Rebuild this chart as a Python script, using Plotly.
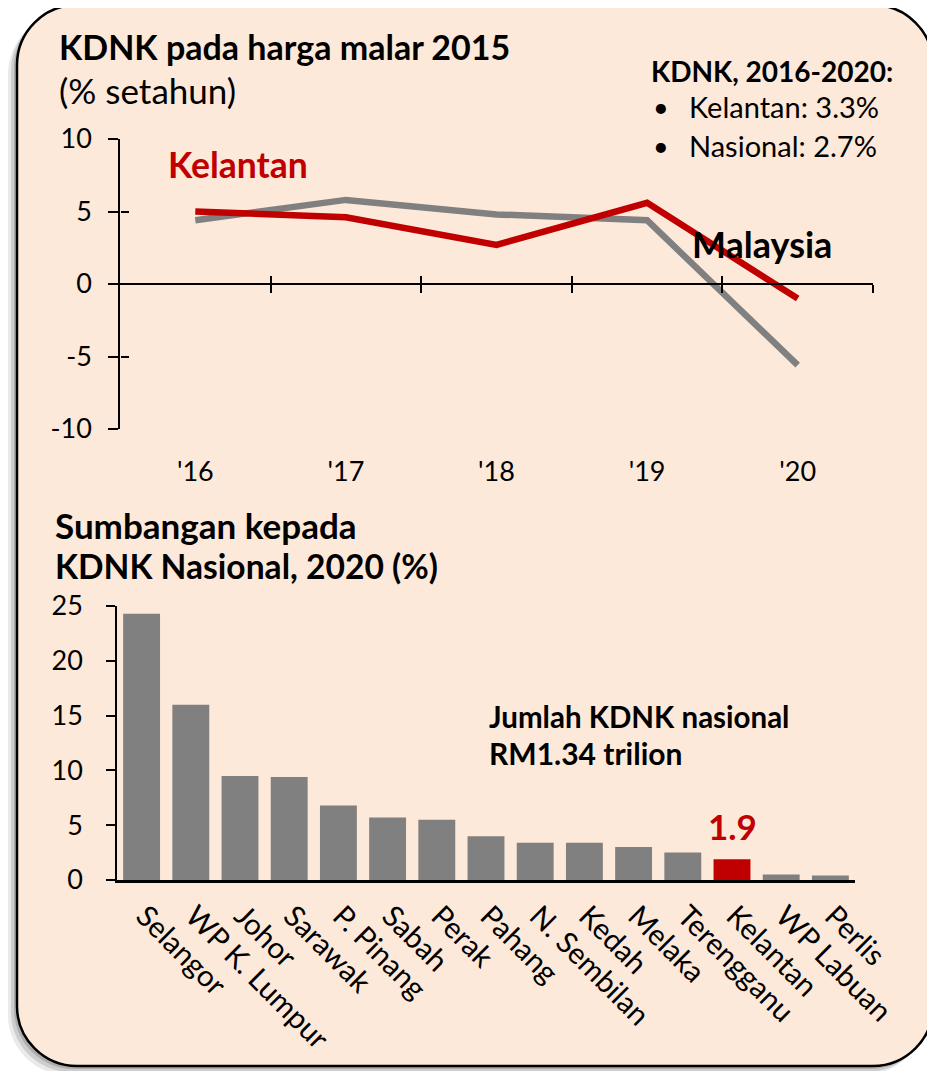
import plotly.graph_objects as go

W, H = 935, 1071
OFF = 8  # page body margin offset

# ---------------- data ----------------
years = ["'16", "'17", "'18", "'19", "'20"]
kelantan_growth = [5.0, 4.6, 2.7, 5.6, -1.0]
malaysia_growth = [4.4, 5.8, 4.8, 4.4, -5.6]
boundaries = [0.5, 1.5, 2.5, 3.5, 4.5]
y_ticks_top = [-10, -5, 0, 5, 10]

states = ["Selangor", "WP K. Lumpur", "Johor", "Sarawak", "P. Pinang", "Sabah", "Perak",
          "Pahang", "N. Sembilan", "Kedah", "Melaka", "Terengganu", "Kelantan",
          "WP Labuan", "Perlis"]
share_2020 = [24.3, 16.0, 9.5, 9.4, 6.8, 5.7, 5.5, 4.0, 3.4, 3.4, 3.0, 2.5, 1.9, 0.5, 0.4]
y_ticks_bottom = [0, 5, 10, 15, 20, 25]

GREY = "#808080"
RED = "#C00000"
BG = "#FDE9D9"
FONT = "Lato"


def px(x):
    return (x - OFF) / W


def py(y):
    return 1 - (y - OFF) / H


def rounded_rect(x0, y0, x1, y1, r):
    k = 0.5523 * r
    pts = []
    pts.append(f"M {px(x0 + r)},{py(y0)}")
    pts.append(f"L {px(x1 - r)},{py(y0)}")
    pts.append(f"C {px(x1 - r + k)},{py(y0)} {px(x1)},{py(y0 + r - k)} {px(x1)},{py(y0 + r)}")
    pts.append(f"L {px(x1)},{py(y1 - r)}")
    pts.append(f"C {px(x1)},{py(y1 - r + k)} {px(x1 - r + k)},{py(y1)} {px(x1 - r)},{py(y1)}")
    pts.append(f"L {px(x0 + r)},{py(y1)}")
    pts.append(f"C {px(x0 + r - k)},{py(y1)} {px(x0)},{py(y1 - r + k)} {px(x0)},{py(y1 - r)}")
    pts.append(f"L {px(x0)},{py(y0 + r)}")
    pts.append(f"C {px(x0)},{py(y0 + r - k)} {px(x0 + r - k)},{py(y0)} {px(x0 + r)},{py(y0)}")
    pts.append("Z")
    return " ".join(pts)


fig = go.Figure()

# top line chart
fig.add_trace(go.Scatter(x=years, y=malaysia_growth, mode="lines",
                         line=dict(color=GREY, width=6.5), xaxis="x", yaxis="y",
                         showlegend=False, hoverinfo="skip"))
fig.add_trace(go.Scatter(x=years, y=kelantan_growth, mode="lines",
                         line=dict(color=RED, width=6.5), xaxis="x", yaxis="y",
                         showlegend=False, hoverinfo="skip"))
# helper (empty) traces so overlay axes are drawn
fig.add_trace(go.Scatter(x=[None], y=[None], xaxis="x2", yaxis="y", showlegend=False))
fig.add_trace(go.Scatter(x=[None], y=[None], xaxis="x3", yaxis="y", showlegend=False))
fig.add_trace(go.Scatter(x=[None], y=[None], xaxis="x", yaxis="y3", showlegend=False))

# bottom bar chart
bar_colors = [RED if s == "Kelantan" else GREY for s in states]
fig.add_trace(go.Bar(x=states, y=share_2020, marker=dict(color=bar_colors, line=dict(width=0)),
                     xaxis="x4", yaxis="y4", showlegend=False, hoverinfo="skip"))

top_xdom = [px(120), px(873)]
top_ydom = [py(429), py(139)]
bot_xdom = [px(117), px(855)]
bot_ydom = [py(880), py(606)]
zero_pos = py(284)

axis_common = dict(showgrid=False, zeroline=False, linecolor="black", tickcolor="black",
                   automargin=False,
                   tickfont=dict(family=FONT, size=27, color="black"))

fig.update_layout(
    template="none",
    width=W, height=H,
    margin=dict(l=0, r=0, t=0, b=0, pad=0),
    paper_bgcolor="white",
    plot_bgcolor="rgba(0,0,0,0)",
    bargap=0.25,
    xaxis=dict(domain=top_xdom, anchor="y", type="category", categoryarray=years,
               range=[-0.5, 4.5], showline=False, ticks="", ticklabelstandoff=24,
               **axis_common),
    yaxis=dict(domain=top_ydom, anchor="x", range=[-10, 10], tickmode="array",
               tickvals=y_ticks_top, ticktext=[str(v) for v in y_ticks_top],
               ticks="outside", ticklen=10, tickwidth=1.5,
               showline=True, linewidth=1.5, ticklabelstandoff=11, **axis_common),
    xaxis2=dict(domain=top_xdom, overlaying="x", anchor="free", position=zero_pos,
                type="linear", range=[-0.5, 4.5], tickmode="array", tickvals=boundaries,
                ticks="outside", ticklen=8, tickwidth=1.5, showline=True, linewidth=1.5,
                showticklabels=False, **axis_common),
    xaxis3=dict(domain=top_xdom, overlaying="x", anchor="free", position=zero_pos,
                type="linear", range=[-0.5, 4.5], tickmode="array", tickvals=boundaries,
                ticks="inside", ticklen=8, tickwidth=1.5, showline=False,
                showticklabels=False, **axis_common),
    yaxis3=dict(domain=top_ydom, overlaying="y", anchor="free", position=px(120),
                range=[-10, 10], tickmode="array", tickvals=y_ticks_top, ticks="inside",
                ticklen=8, tickwidth=1.5, showline=False, showticklabels=False,
                **axis_common),
    xaxis4=dict(domain=bot_xdom, anchor="y4", type="category", categoryarray=states,
                range=[-0.5, 14.5], showline=True, linewidth=3, ticks="", tickangle=45,
                ticklabelstandoff=4, ticklabelshift=3,
                **{**axis_common, "tickfont": dict(family=FONT, size=29.5, color="black")}),
    yaxis4=dict(domain=bot_ydom, anchor="x4", range=[0, 25], tickmode="array",
                tickvals=y_ticks_bottom, ticks="outside", ticklen=9, tickwidth=1.5,
                showline=True, linewidth=1.5, ticklabelstandoff=18, **axis_common),
)

# frame with shadow
shapes = []
for i, op in [(9, 0.12), (6, 0.18), (3, 0.25)]:
    shapes.append(dict(type="path", xref="paper", yref="paper", layer="below",
                       path=rounded_rect(17 - i, 5 + i, 933 - i, 1066 + i, 60),
                       fillcolor=f"rgba(80,80,80,{op})", line=dict(width=0)))
shapes.append(dict(type="path", xref="paper", yref="paper", layer="below",
                   path=rounded_rect(17, 5, 933, 1066, 60),
                   fillcolor=BG, line=dict(color="black", width=2.5)))
fig.update_layout(shapes=shapes)


def ann(text, x, y, size, bold=False, color="black", xanchor="left"):
    t = f"<b>{text}</b>" if bold else text
    return dict(text=t, x=px(x), y=py(y), xref="paper", yref="paper", xanchor=xanchor,
                yanchor="middle", showarrow=False,
                font=dict(family=FONT, size=size, color=color))


annotations = [
    ann("KDNK pada harga malar 2015", 57, 47, 34, bold=True),
    ann("(% setahun)", 57, 90, 35),
    ann("KDNK, 2016-2020:", 649, 71, 28, bold=True),
    ann("•", 651, 106, 27),
    ann("Kelantan: 3.3%", 687, 106, 29),
    ann("•", 651, 146, 27),
    ann("Nasional: 2.7%", 687, 146, 29),
    ann("Kelantan", 166, 164, 35.5, bold=True, color=RED),
    ann("Malaysia", 690, 244, 36, bold=True),
    ann("Sumbangan kepada", 53, 525, 35, bold=True),
    ann("KDNK Nasional, 2020 (%)", 53, 566, 33.6, bold=True),
    ann("Jumlah KDNK nasional", 487, 716, 29.5, bold=True),
    ann("RM1.34 trilion", 487, 753, 30, bold=True),
]
ki = states.index("Kelantan")
annotations.append(dict(text=f"<b>{share_2020[ki]}</b>", x=states[ki], y=share_2020[ki],
                        xref="x4", yref="y4", xanchor="center", yanchor="middle",
                        yshift=33, showarrow=False,
                        font=dict(family=FONT, size=35, color=RED)))
fig.update_layout(annotations=annotations)

fig.write_html("out.html")
